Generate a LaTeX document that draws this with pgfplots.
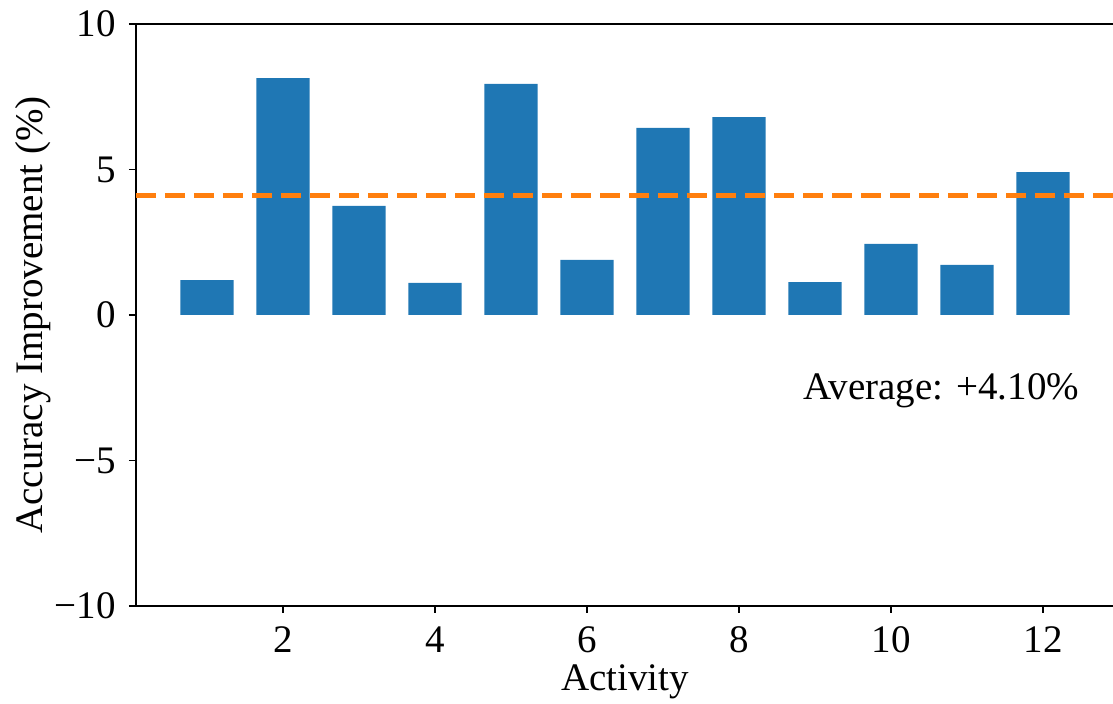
\documentclass[border=0pt]{standalone}
\usepackage{fontspec}
\setmainfont{Liberation Serif}
\usepackage{pgfplots}
\pgfplotsset{compat=1.18}
\definecolor{mplblue}{HTML}{1F77B4}
\definecolor{mplorange}{HTML}{FF7F0E}
\begin{document}
\fontsize{19.5}{23}\selectfont
\begin{tikzpicture}
\begin{axis}[
  scale only axis,
  width=489.5pt, height=291pt,
  xmin=0.066, xmax=12.947,
  ymin=-10, ymax=10,
  xtick={2,4,6,8,10,12},
  ytick={-10,-5,0,5,10},
  yticklabels={−10,−5,0,5,10},
  tick align=outside,
  tick pos=left,
  major tick length=3.5pt,
  axis line style={line width=0.8pt},
  every tick/.style={black, line width=0.8pt},
  /pgf/number format/assume math mode=true,
  ticklabel style={font=\fontsize{19.5}{23}\selectfont},
  label style={font=\fontsize{19.5}{23}\selectfont},
  xlabel={Activity},
  ylabel={Accuracy Improvement (\%)},
  xlabel style={at={(axis description cs:0.4995,-0.1306)},anchor=center},
  ylabel style={at={(axis description cs:-0.1052,0.5)},anchor=center},
  clip=false,
]
\addplot[ybar, bar width=0.7, fill=mplblue, draw=none] coordinates {
 (1,1.20) (2,8.14) (3,3.75) (4,1.10) (5,7.94) (6,1.89)
 (7,6.43) (8,6.80) (9,1.13) (10,2.44) (11,1.72) (12,4.91)
};
\addplot[mplorange, line width=2.5pt, dash pattern=on 10pt off 4.5pt] coordinates {(0.066,4.10) (12.947,4.10)};
\node[anchor=base east, inner sep=0pt, font=\fontsize{19.5}{23}\selectfont] at (axis cs:12.48,-2.92) {Average: +4.10\%};
\end{axis}
\pgfresetboundingbox
\useasboundingbox ([xshift=-68pt,yshift=-49pt]current axis.south west) rectangle ([xshift=-1pt,yshift=12pt]current axis.north east);
\end{tikzpicture}
\end{document}
